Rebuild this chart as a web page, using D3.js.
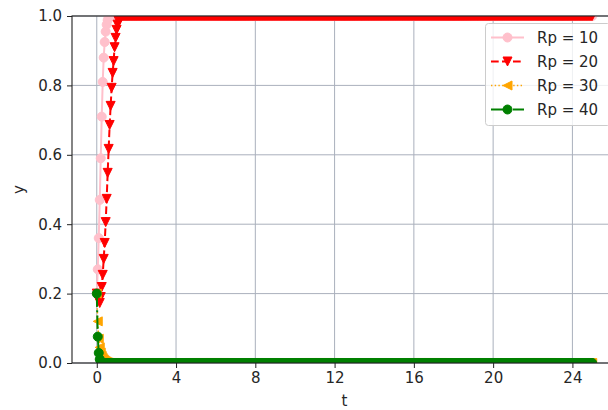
<!DOCTYPE html>
<html>
<head>
<meta charset="utf-8">
<script src="https://cdn.jsdelivr.net/npm/d3@7"></script>
<style>
  body { margin: 0; background: #fff; }
  svg { display: block; }
  text { font-family: "DejaVu Sans", sans-serif; }
</style>
</head>
<body>
<svg id="chart" width="608" height="410"></svg>
<script>
// Simulation sampling
const tStep = 0.05;
const tEnd = 25;

// Axis ticks
const xTicks = [0, 4, 8, 12, 16, 20, 24];
const yTicks = [0.0, 0.2, 0.4, 0.6, 0.8, 1.0];

// Series labels
const seriesNames = ["Rp = 10", "Rp = 20", "Rp = 30", "Rp = 40"];

// Transient part of each response (one value per time step), then its steady value
const rp10Rise = [0.20, 0.27, 0.36, 0.47, 0.59, 0.71, 0.81, 0.88, 0.925, 0.955, 0.975, 0.988, 0.995, 1.0];
const rp10Steady = 1.0;

const rp20Rise = [0.20, 0.19, 0.18, 0.173, 0.19, 0.219, 0.254, 0.30, 0.346, 0.406, 0.473, 0.548, 0.617,
                  0.686, 0.741, 0.793, 0.836, 0.87, 0.91, 0.937, 0.96, 0.975, 0.986, 0.993, 0.997, 1.0];
const rp20Steady = 1.0;

const rp30Rise = [0.20, 0.12, 0.07, 0.045, 0.03, 0.02, 0.014, 0.01, 0.007, 0.005, 0.003, 0.002, 0.001, 0.0];
const rp30Steady = 0.0;

const rp40Rise = [0.20, 0.076, 0.029, 0.011, 0.004, 0.0015, 0.0005, 0.0];
const rp40Steady = 0.0;

// Layout
const W = 608, H = 410;
const plot = { left: 72, right: 617, top: 16, bottom: 363 };

const svg = d3.select("#chart");

const x = d3.scaleLinear().domain([-1.25, 26.25]).range([plot.left, plot.right]);
const y = d3.scaleLinear().domain([0, 1]).range([plot.bottom, plot.top]);

const nSteps = Math.round(tEnd / tStep) + 1;
function buildSeries(rise, steady) {
  const vals = [];
  for (let i = 0; i < nSteps; i++) {
    vals.push({ t: i * tStep, v: i < rise.length ? rise[i] : steady });
  }
  return vals;
}

const styles = [
  { color: "pink",    width: 2.0, dash: null,               marker: "circle" },
  { color: "red",     width: 2.0, dash: "7.7,3.3",          marker: "down" },
  { color: "orange",  width: 1.4, dash: "1.4,2.3",          marker: "left" },
  { color: "green",   width: 2.0, dash: "13.3,3.3,2.1,3.3", marker: "circle" }
];
const series = [
  buildSeries(rp10Rise, rp10Steady),
  buildSeries(rp20Rise, rp20Steady),
  buildSeries(rp30Rise, rp30Steady),
  buildSeries(rp40Rise, rp40Steady)
];

const ms = 4.5; // half marker size
function markerPath(kind) {
  if (kind === "down") return `M${-ms},${-ms}L${ms},${-ms}L0,${ms}Z`;
  if (kind === "left") return `M${ms},${-ms}L${ms},${ms}L${-ms},0Z`;
  return d3.symbol(d3.symbolCircle, Math.PI * ms * ms)();
}

// Clip region for the axes
svg.append("defs").append("clipPath").attr("id", "plotClip")
  .append("rect")
  .attr("x", plot.left).attr("y", plot.top)
  .attr("width", plot.right - plot.left).attr("height", plot.bottom - plot.top);

// Grid
const gridColor = "#aab0bc";
const grid = svg.append("g");
grid.selectAll(".gx").data(xTicks).join("line")
  .attr("x1", d => x(d)).attr("x2", d => x(d))
  .attr("y1", plot.top).attr("y2", plot.bottom)
  .attr("stroke", gridColor).attr("stroke-width", 1);
grid.selectAll(".gy").data(yTicks).join("line")
  .attr("x1", plot.left).attr("x2", plot.right)
  .attr("y1", d => y(d)).attr("y2", d => y(d))
  .attr("stroke", gridColor).attr("stroke-width", 1);

// Series
const plotArea = svg.append("g").attr("clip-path", "url(#plotClip)");
const line = d3.line().x(d => x(d.t)).y(d => y(d.v));
series.forEach((data, i) => {
  const st = styles[i];
  const g = plotArea.append("g");
  g.append("path").datum(data)
    .attr("d", line)
    .attr("fill", "none")
    .attr("stroke", st.color)
    .attr("stroke-width", st.width)
    .attr("stroke-dasharray", st.dash);
  const mp = markerPath(st.marker);
  g.selectAll("path.m").data(data).join("path")
    .attr("class", "m")
    .attr("d", mp)
    .attr("transform", d => `translate(${x(d.t)},${y(d.v)})`)
    .attr("fill", st.color)
    .attr("stroke", st.color)
    .attr("stroke-width", 1);
});

// Axes
const axisColor = "#222";
const xAxis = d3.axisBottom(x).tickValues(xTicks).tickFormat(d3.format("d")).tickSize(5).tickPadding(4);
const yAxis = d3.axisLeft(y).tickValues(yTicks).tickFormat(d3.format(".1f")).tickSize(5).tickPadding(5);

const gx = svg.append("g").attr("transform", `translate(0,${plot.bottom})`).call(xAxis);
const gy = svg.append("g").attr("transform", `translate(${plot.left},0)`).call(yAxis);
[gx, gy].forEach(g => {
  g.select(".domain").remove();
  g.selectAll(".tick line").attr("stroke", axisColor).attr("stroke-width", 1);
  g.selectAll(".tick text").attr("fill", "#262626").attr("font-size", 15)
    .attr("font-family", "DejaVu Sans, sans-serif");
});

// Spines
const spines = svg.append("g").attr("stroke", axisColor).attr("stroke-width", 1.1).attr("fill", "none");
spines.append("rect")
  .attr("x", plot.left).attr("y", plot.top)
  .attr("width", plot.right - plot.left).attr("height", plot.bottom - plot.top);

// Axis labels
svg.append("text")
  .attr("x", (plot.left + plot.right) / 2).attr("y", 406)
  .attr("text-anchor", "middle").attr("font-size", 15).attr("fill", "#262626")
  .text("t");
svg.append("text")
  .attr("transform", `translate(24,${(plot.top + plot.bottom) / 2}) rotate(-90)`)
  .attr("text-anchor", "middle").attr("font-size", 15).attr("fill", "#262626")
  .text("y");

// Legend
const legend = svg.append("g");
const lg = { x: 485.5, y: 23.5, w: 125, h: 102 };
legend.append("rect")
  .attr("x", lg.x).attr("y", lg.y).attr("width", lg.w).attr("height", lg.h)
  .attr("rx", 3).attr("ry", 3)
  .attr("fill", "white").attr("fill-opacity", 0.8)
  .attr("stroke", "#cccccc").attr("stroke-width", 1);
const rowY = [37.5, 61.5, 85.5, 109.5];
seriesNames.forEach((name, i) => {
  const st = styles[i];
  const row = legend.append("g").attr("transform", `translate(0,${rowY[i]})`);
  row.append("line")
    .attr("x1", 491).attr("x2", 524).attr("y1", 0).attr("y2", 0)
    .attr("stroke", st.color).attr("stroke-width", st.width)
    .attr("stroke-dasharray", st.dash);
  row.append("path")
    .attr("d", markerPath(st.marker))
    .attr("transform", "translate(507.5,0)")
    .attr("fill", st.color).attr("stroke", st.color).attr("stroke-width", 1);
  row.append("text")
    .attr("x", 537).attr("y", 5.5)
    .attr("font-size", 15).attr("fill", "#262626")
    .text(name);
});
</script>
</body>
</html>
